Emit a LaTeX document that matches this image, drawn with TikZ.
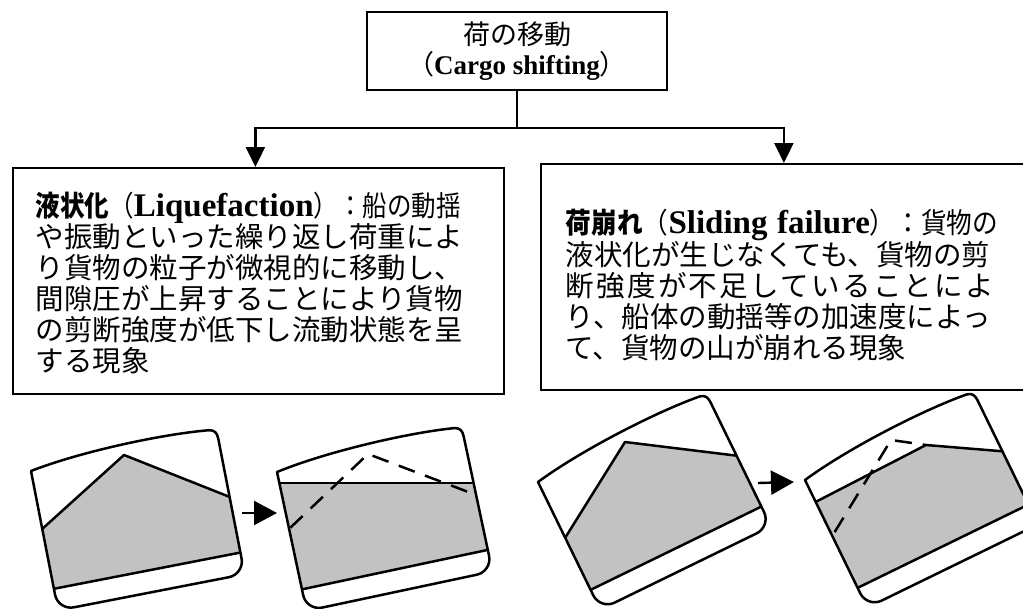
\documentclass[tikz,border=0pt]{standalone}
\usepackage{fontspec}
\usepackage{graphicx}
\setmainfont{Liberation Serif}
\newfontfamily\jpfont{Noto Sans CJK JP}
\usetikzlibrary{arrows.meta}

% Latin words set in bold serif inside the Japanese text
\newcommand\enbold[2]{\mbox{\rmfamily\bfseries\fontsize{#1}{31}\selectfont #2}}
% Japanese set narrower on the heading lines
\newcommand\cjkn[2]{\scalebox{#1}[1]{#2}}

% outline of a cargo hold in its own frame (width 190, depth 142)
\newcommand\holdoutline{(0,0) .. controls (55,-10) and (140,-11) .. (183,-6)
  .. controls (188,-5) and (190,-2) .. (190,4) -- (190,126)
  .. controls (190,134.8) and (182.8,142) .. (174,142) -- (16,142)
  .. controls (7.2,142) and (0,134.8) .. (0,126) -- cycle}
% the part of the hold above the tank top
\newcommand\holdupper{(0,0) .. controls (55,-10) and (140,-11) .. (183,-6)
  .. controls (188,-5) and (190,-2) .. (190,4) -- (190,120) -- (0,120) -- cycle}

\begin{document}
\begin{tikzpicture}[x=1pt,y=-1pt,
  box/.style={draw, line width=1.8pt, inner ysep=0pt},
  link/.style={line width=2.2pt, -{Triangle[length=20pt,width=19pt]}},
  shiftarrow/.style={line width=2.4pt, -{Triangle[length=23pt,width=24pt]}},
  hull/.style={line width=2.5pt, line join=round},
  cargo/.style={fill=black!24},
  surface/.style={line width=2.5pt, line join=round},
  level/.style={line width=1.4pt},
  oldpile/.style={line width=2.5pt, dash pattern=on 17pt off 11pt},
  jptext/.style={font=\jpfont\fontsize{28.5}{31}\selectfont, align=left}]
\useasboundingbox (0,0) rectangle (1023,608);

% ---- headings ----
\node[box, minimum width=300pt, minimum height=78pt, align=center,
      font=\jpfont\fontsize{27}{30}\selectfont] (top) at (517,51)
  {荷の移動\\（\enbold{27}{Cargo shifting}）};

\node[box, jptext, anchor=north west, text width=445pt, inner xsep=23pt,
      minimum height=226pt] (lbox) at (12,167)
  {\rule{0pt}{28pt}\cjkn{0.86}{{\bfseries 液状化}（}\enbold{33}{Liquefaction}\cjkn{0.86}{）：船の動揺}\\
   や振動といった繰り返し荷重によ\\
   り貨物の粒子が微視的に移動し、\\
   間隙圧が上昇することにより貨物\\
   の剪断強度が低下し流動状態を呈\\
   する現象};

\node[box, jptext, anchor=north west, text width=436pt, inner xsep=25pt,
      minimum height=226pt] (rbox) at (540,163)
  {\rule{0pt}{41pt}\cjkn{0.9}{{\bfseries 荷崩れ}（}\enbold{33}{Sliding failure}\cjkn{0.9}{）：貨物の}\\
   液状化が生じなくても、貨物の剪\\
   \makebox[428pt][s]{断\hfil 強\hfil 度\hfil が\hfil 不\hfil 足\hfil し\hfil て\hfil い\hfil る\hfil こ\hfil と\hfil に\hfil よ}\\
   り、船体の動揺等の加速度によっ\\
   て、貨物の山が崩れる現象};

\coordinate (split) at (517,128);
\draw[link] (top.south) -- (split) -| ([xshift=-3pt]lbox.north);
\draw[link] (split) -| (rbox.north);

% ---- liquefaction: before ----
\begin{scope}[shift={(31,471)}, rotate=11]
  \begin{scope}
    \clip \holdupper;
    \begin{scope}[reset cm]
      \fill[cargo] (20,549) -- (124,455) -- (250,505) -- (250,640) -- (20,640) -- cycle;
      \draw[surface] (20,549) -- (124,455) -- (250,505);
    \end{scope}
  \end{scope}
  \draw[hull] (0,120) -- (190,120);
  \draw[hull] \holdoutline;
\end{scope}

% ---- liquefaction: after ----
\begin{scope}[shift={(277,472)}, rotate=12]
  \begin{scope}
    \clip \holdupper;
    \begin{scope}[reset cm]
      \fill[cargo] (260,483) rectangle (510,640);
      \draw[level] (260,483) -- (510,483);
      \draw[oldpile] (270,547) -- (368,454) -- (500,504);
    \end{scope}
  \end{scope}
  \draw[hull] (0,120) -- (190,120);
  \draw[hull] \holdoutline;
\end{scope}

\coordinate (a1s) at (242,513);
\coordinate (a1e) at (277,513);
\draw[shiftarrow] (a1s) -- (a1e);

% ---- sliding failure: before ----
\begin{scope}[shift={(538,482)}, rotate=26]
  \begin{scope}
    \clip \holdupper;
    \begin{scope}[reset cm]
      \fill[cargo] (550,562) -- (625,442) -- (780,461) -- (780,640) -- (550,640) -- cycle;
      \draw[surface] (550,562) -- (625,442) -- (780,461);
    \end{scope}
  \end{scope}
  \draw[hull] (0,120) -- (190,120);
  \draw[hull] \holdoutline;
\end{scope}

% ---- sliding failure: after ----
\begin{scope}[shift={(805,480)}, rotate=26]
  \begin{scope}
    \clip \holdupper;
    \begin{scope}[reset cm]
      \fill[cargo] (800,510) -- (926,445) -- (1060,456) -- (1060,640) -- (800,640) -- cycle;
      \draw[surface] (800,510) -- (926,445) -- (1060,456);
      \draw[oldpile] (820,556) -- (891,440) -- (926,445);
    \end{scope}
  \end{scope}
  \draw[hull] (0,120) -- (190,120);
  \draw[hull] \holdoutline;
\end{scope}

\coordinate (a2s) at (758,483);
\coordinate (a2e) at (794,482);
\draw[shiftarrow] (a2s) -- (a2e);
\end{tikzpicture}
\end{document}
